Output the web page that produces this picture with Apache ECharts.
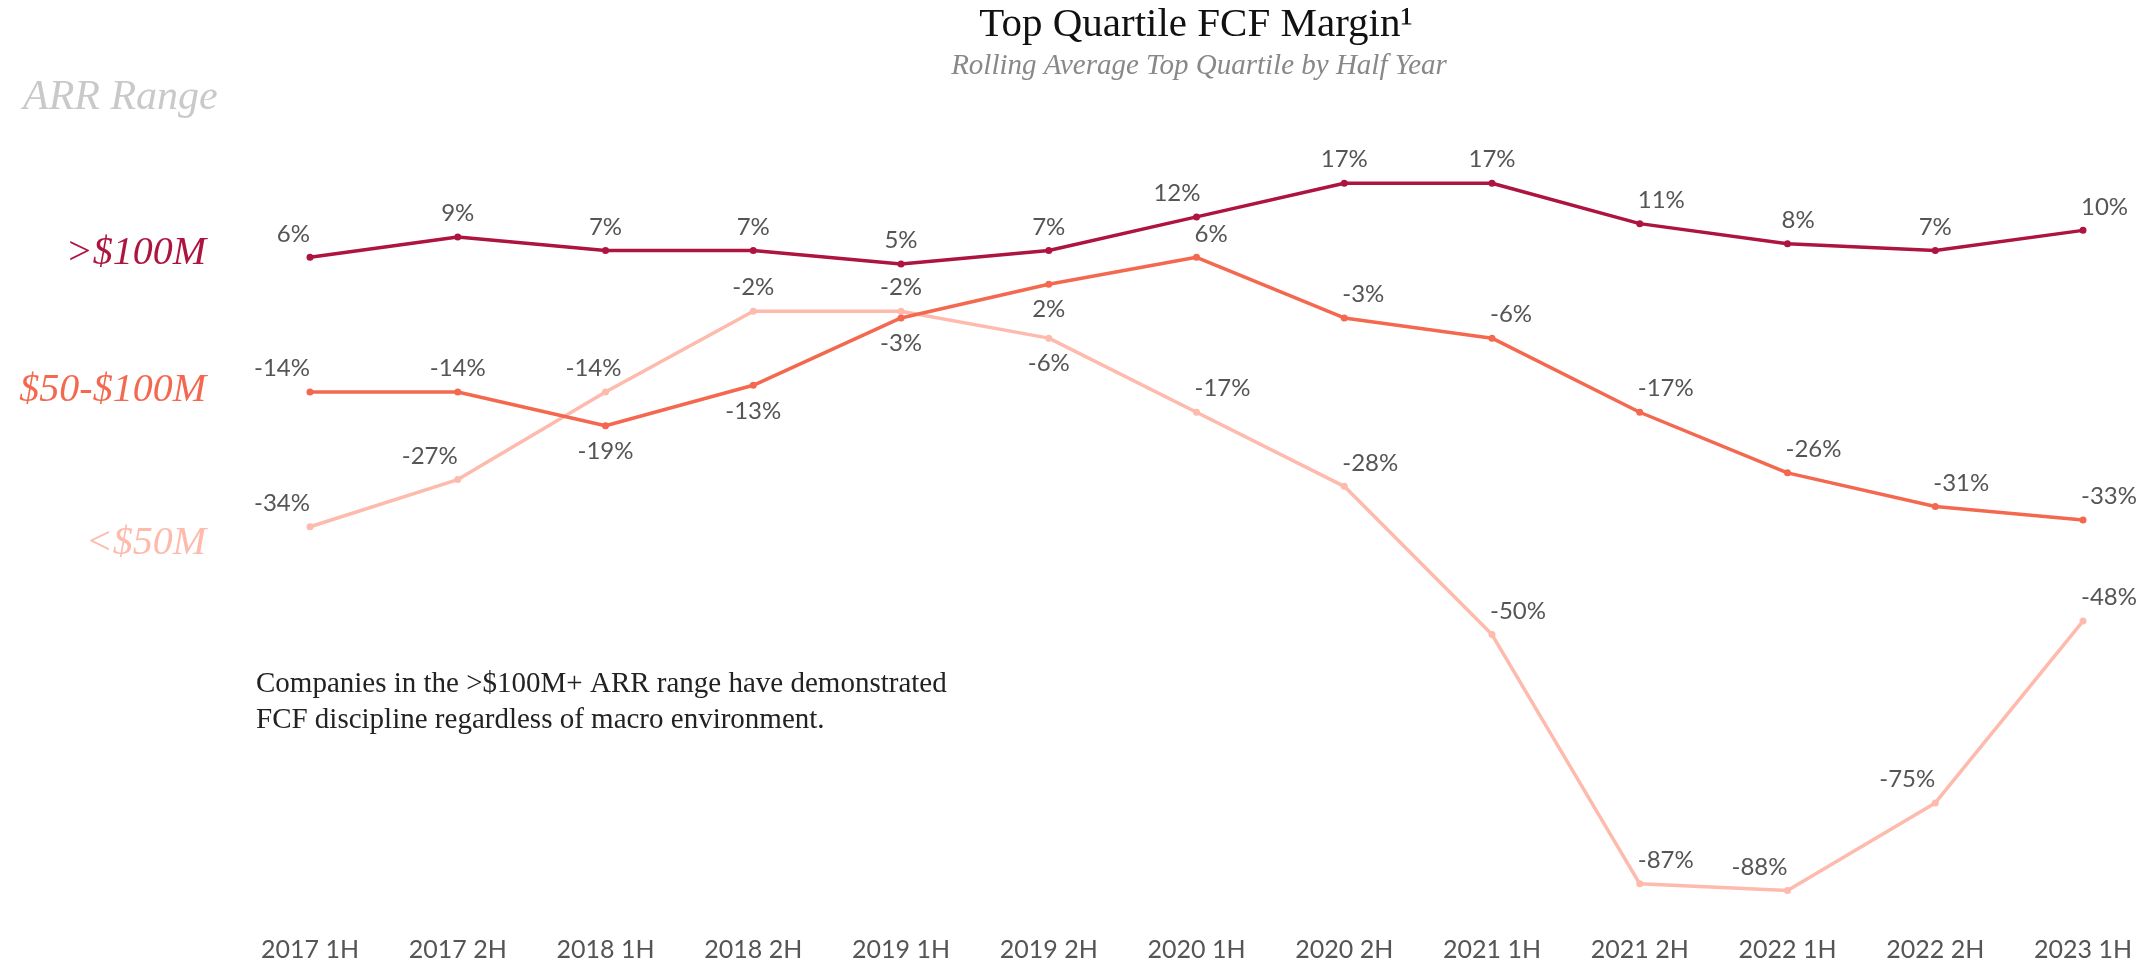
<!DOCTYPE html>
<html><head><meta charset="utf-8">
<script src="https://cdn.jsdelivr.net/npm/echarts@6/dist/echarts.min.js"></script>
<style>html,body{margin:0;padding:0;background:#fff}#c{width:2156px;height:966px}</style>
</head><body><div id="c"></div>
<script>
const categories = ['2017 1H','2017 2H','2018 1H','2018 2H','2019 1H','2019 2H','2020 1H','2020 2H','2021 1H','2021 2H','2022 1H','2022 2H','2023 1H'];
const over100 = [6, 9, 7, 7, 5, 7, 12, 17, 17, 11, 8, 7, 10];
const mid50to100 = [-14, -14, -19, -13, -3, 2, 6, -3, -6, -17, -26, -31, -33];
const under50 = [-34, -27, -14, -2, -2, -6, -17, -28, -50, -87, -88, -75, -48];
const seriesNames = ['>$100M', '$50-$100M', '<$50M'];

// label placement codes (style only)
const place100 = ['TL','T','T','T','T','T','TLs','T','T','TR','TRs','T','TR'];
const place50 = ['TL','T','B','B','B','B','TR','TR','TR','TR','TR','TR','TR'];
const placeU = ['TL','TL','Tl','T','T','B','TR','TR','TR','TR','TL','TL','TR'];

const colors = ['#AE1440', '#F4684F', '#FDBAAD'];

function lab(code){
  const base = {show:true, position:'top', distance:8};
  if (code==='B') return {show:true, position:'bottom', distance:10};
  if (code==='TL') return Object.assign(base,{align:'right', offset:[0,0]});
  if (code==='TLs') return Object.assign(base,{align:'right', offset:[4,0]});
  if (code==='Tl') return Object.assign(base,{offset:[-12,0]});
  if (code==='TR') return Object.assign(base,{align:'left', offset:[-2,0]});
  if (code==='TRs') return Object.assign(base,{align:'left', offset:[-6,0]});
  return base;
}
function mk(vals, codes){ return vals.map((v,i)=>({value:v, label:lab(codes[i])})); }

const chart = echarts.init(document.getElementById('c'));
const serif = '"Liberation Serif", "DejaVu Serif", serif';
const lblFont = 'Lato, "Open Sans", sans-serif';
function line(name, vals, codes, color, z){
  return {
    name, type:'line', data: mk(vals,codes), z,
    symbol:'circle', symbolSize:7,
    lineStyle:{color, width:3.5}, itemStyle:{color},
    label:{fontFamily:lblFont, fontSize:24, color:'#555', formatter: p=>Math.round(p.value)+'%'},
    emphasis:{disabled:true}, animation:false
  };
}
chart.setOption({
  animation:false,
  grid:{left:310, right:73, top:163, bottom:62},
  xAxis:{type:'category', data:categories, boundaryGap:false,
    axisLine:{show:false}, axisTick:{show:false}, splitLine:{show:false},
    axisLabel:{fontFamily:lblFont, fontSize:25, color:'#555', margin:33}},
  yAxis:{type:'value', min:-90, max:20, show:false, splitLine:{show:false}},
  series:[
    line(seriesNames[2], under50, placeU, colors[2], 1),
    line(seriesNames[1], mid50to100, place50, colors[1], 2),
    line(seriesNames[0], over100, place100, colors[0], 3)
  ],
  graphic:[
    {type:'text', position:[1196,5], style:{text:'Top Quartile FCF Margin¹', font:'41px '+serif, fill:'#111', textAlign:'center'}},
    {type:'text', position:[1199,52], style:{text:'Rolling Average Top Quartile by Half Year', font:'italic 29px '+serif, fill:'#888', textAlign:'center'}},
    {type:'text', position:[23,77], style:{text:'ARR Range', font:'italic 42px '+serif, fill:'#c9c9c9', textAlign:'left'}},
    {type:'text', position:[206,253], style:{text:seriesNames[0], font:'italic 40px '+serif, fill:colors[0], textAlign:'right', textVerticalAlign:'middle'}},
    {type:'text', position:[206,390], style:{text:seriesNames[1], font:'italic 40px '+serif, fill:colors[1], textAlign:'right', textVerticalAlign:'middle'}},
    {type:'text', position:[206,543], style:{text:seriesNames[2], font:'italic 40px '+serif, fill:colors[2], textAlign:'right', textVerticalAlign:'middle'}},
    {type:'text', position:[256,666], style:{text:'Companies in the >$100M+ ARR range have demonstrated\nFCF discipline regardless of macro environment.', font:'29px '+serif, fill:'#222', lineHeight:36}}
  ]
});
</script></body></html>
